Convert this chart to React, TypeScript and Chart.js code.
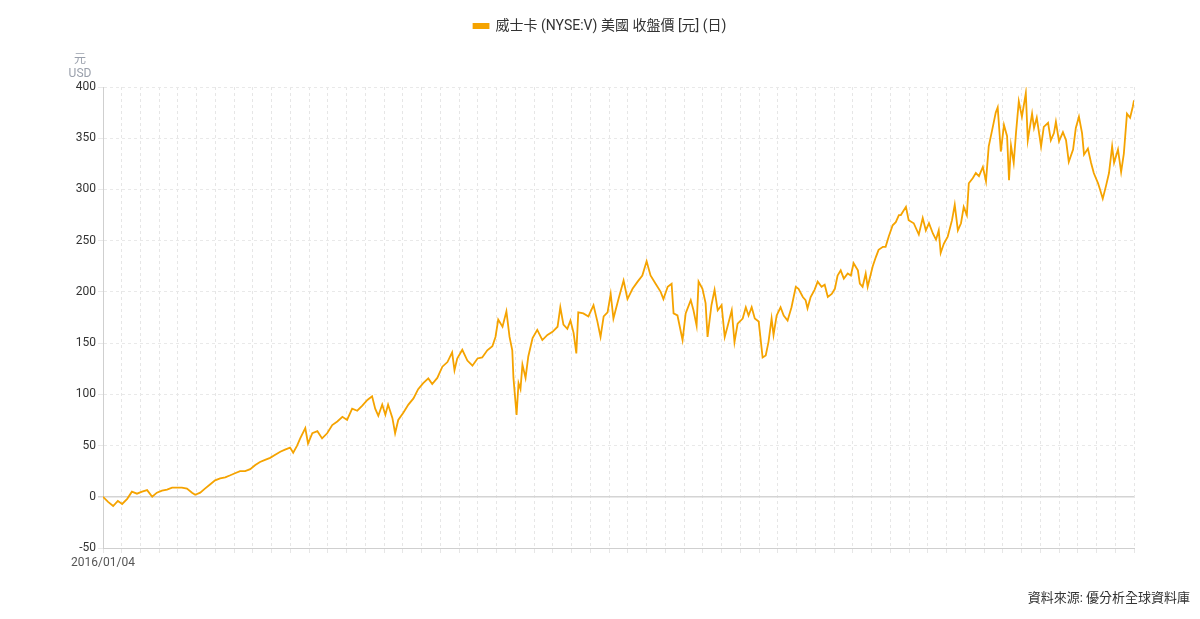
import { useEffect, useRef } from "react";
import { Chart, registerables } from "chart.js";

Chart.register(...registerables);

// trading-day index since 2016/01/04, and closing value
const tradingDays = [
  0, 13, 26, 38, 49, 62, 74, 87, 100, 113, 126, 138, 151, 164, 177, 190, 202, 215, 228, 236,
  249, 261, 274, 287, 300, 313, 326, 338, 351, 364, 377, 390, 402, 415, 428, 441, 454, 466, 479, 487,
  497, 505, 518, 525, 536, 549, 561, 574, 587, 600, 613, 625, 638, 651, 664, 677, 689, 697, 705, 715,
  723, 730, 741, 748, 756, 769, 782, 795, 807, 820, 833, 843, 856, 869, 882, 894, 900, 907, 920, 933,
  946, 959, 971, 984, 997, 1005, 1012, 1023, 1033, 1041, 1048, 1051, 1059, 1064, 1069, 1074, 1082, 1089, 1100, 1112,
  1125, 1138, 1151, 1164, 1171, 1179, 1189, 1197, 1205, 1212, 1217, 1230, 1243, 1256, 1266, 1274, 1282, 1292, 1300, 1307,
  1320, 1333, 1343, 1356, 1369, 1381, 1392, 1402, 1415, 1428, 1435, 1446, 1456, 1461, 1471, 1484, 1492, 1505, 1512, 1520,
  1525, 1535, 1543, 1548, 1558, 1566, 1574, 1584, 1592, 1599, 1610, 1617, 1625, 1638, 1646, 1653, 1661, 1669, 1679, 1689,
  1697, 1704, 1712, 1717, 1725, 1735, 1743, 1753, 1763, 1774, 1781, 1792, 1799, 1804, 1812, 1822, 1830, 1840, 1848, 1856,
  1866, 1874, 1881, 1889, 1897, 1907, 1915, 1922, 1933, 1938, 1945, 1953, 1958, 1971, 1979, 1986, 1997, 2004, 2012, 2022,
  2030, 2038, 2043, 2056, 2063, 2076, 2089, 2099, 2107, 2115, 2125, 2133, 2140, 2145, 2153, 2163, 2174, 2181, 2189, 2197,
  2204, 2212, 2217, 2227, 2235, 2243, 2253, 2261, 2268, 2279, 2286, 2291, 2299, 2307, 2315, 2320, 2325, 2332, 2338, 2345,
  2353, 2363, 2368, 2379, 2384, 2391, 2402, 2409, 2420, 2427, 2435, 2440, 2448, 2458, 2466, 2473, 2484, 2491, 2499, 2507,
  2512, 2522, 2530, 2537, 2548, 2553, 2560, 2568, 2576, 2584, 2589, 2599, 2607, 2614, 2622, 2630, 2637, 2640,
];

const closePrices = [
  0, -5, -9, -4, -7, -2, 5, 3, 5, 6.5, 0, 4, 6, 7, 9, 9, 9, 8, 4, 2,
  4, 8, 12, 16, 18, 19, 21, 23, 25, 25, 27, 31, 34, 36, 38, 41, 44, 46, 48, 43,
  50, 57, 67, 52, 62, 64, 57, 62, 70, 73.5, 78, 75, 86, 84, 89, 94.5, 98, 86, 79, 90,
  80, 90, 77, 62, 75, 82, 90, 96, 105, 111, 115.5, 110, 116, 127, 131.5, 141, 123.5, 135, 143.5, 133,
  128, 135, 136, 143, 147, 156, 173, 166, 181, 156, 143, 116, 80, 111, 105, 129, 116, 137, 155, 163,
  153, 158, 161, 166, 185, 168, 164, 172, 160, 140, 180, 179, 176, 187, 171, 156, 176, 180, 198, 174,
  193, 211, 193, 203, 210, 216, 230, 216, 208, 200, 193, 205, 208, 179, 177, 153, 179, 192, 182, 167,
  210, 203, 189, 156, 187, 202, 182, 187, 156, 166, 182, 151, 169, 174, 185, 177, 185, 174, 171, 136,
  138, 151, 174, 158, 177, 185, 177, 172, 185, 205, 203, 195, 192, 184, 195, 202, 210, 205, 207, 195,
  198, 203, 216, 221, 213, 218, 216, 228, 221, 208, 205, 218, 205, 225, 234, 241, 244, 244, 254, 265,
  268, 275, 275, 283, 270, 267, 256, 272, 260, 267, 257, 251, 260, 238, 247, 254, 270, 285, 260, 267,
  283, 275, 306, 311, 316, 313, 322, 308, 342, 362, 375, 380, 337, 363, 352, 309, 343, 326, 356, 386,
  371, 394, 348, 374, 360, 370, 342, 361, 365, 348, 355, 366, 347, 356, 348, 327, 339, 360, 371, 355,
  334, 340, 326, 316, 306, 300, 291, 303, 316, 342, 326, 339, 317, 335, 374, 370, 381, 387,
];

const startDateLabel = "2016/01/04";
const lastTradingDay = 2640;
const xGridStep = 48;
const yMin = -50;
const yMax = 400;
const yStep = 50;
const seriesLabel = "威士卡 (NYSE:V) 美國 收盤價 [元] (日)";
const yUnitLines = ["元", "USD"];
const sourceText = "資料來源: 優分析全球資料庫";

const LINE_COLOR = "#f5a300";
const FONT = "Roboto, 'Noto Sans CJK TC', 'Noto Sans', sans-serif";

// push the plot area down below the legend
const legendSpacer = {
  id: "legendSpacer",
  beforeInit(chart: any) {
    if (!chart.legend) return;
    const origFit = chart.legend.fit;
    chart.legend.fit = function fit() {
      origFit.bind(chart.legend)();
      this.height = 87;
    };
  },
};

// unit label above the y axis and the source note at the bottom right
const extraText = {
  id: "extraText",
  afterDraw(chart: any) {
    const { ctx, chartArea, width } = chart;
    ctx.save();
    ctx.font = `12px ${FONT}`;
    ctx.fillStyle = "#9aa0ac";
    ctx.textAlign = "center";
    ctx.textBaseline = "middle";
    ctx.fillText(yUnitLines[0], chartArea.left - 23, chartArea.top - 27);
    ctx.fillText(yUnitLines[1], chartArea.left - 23, chartArea.top - 13);
    ctx.font = `13px ${FONT}`;
    ctx.fillStyle = "#333";
    ctx.textAlign = "right";
    ctx.fillText(sourceText, width - 10, 599);
    ctx.restore();
  },
};

export default function App() {
  const chartRef = useRef<HTMLCanvasElement>(null);
  const chartInstance = useRef<Chart | null>(null);

  useEffect(() => {
    if (!chartRef.current) return;
    const ctx = chartRef.current.getContext("2d");
    if (!ctx) return;

    if (chartInstance.current) {
      chartInstance.current.destroy();
    }

    const points = tradingDays.map((d, i) => ({ x: d, y: closePrices[i] }));

    chartInstance.current = new Chart(ctx, {
      type: "line",
      data: {
        datasets: [
          {
            label: seriesLabel,
            data: points,
            borderColor: LINE_COLOR,
            backgroundColor: LINE_COLOR,
            borderWidth: 1.8,
            pointRadius: 0,
            tension: 0,
            fill: false,
          },
        ],
      },
      options: {
        animation: false,
        responsive: true,
        maintainAspectRatio: false,
        layout: { padding: 0 },
        plugins: {
          legend: {
            position: "top",
            labels: {
              boxWidth: 15,
              boxHeight: 4,
              padding: 19,
              color: "#333",
              font: { family: FONT, size: 14 },
            },
          },
          tooltip: { enabled: false },
        },
        scales: {
          x: {
            type: "linear",
            min: 0,
            max: lastTradingDay,
            afterFit(scale: any) {
              scale.height = 71;
            },
            ticks: {
              stepSize: xGridStep,
              autoSkip: false,
              maxRotation: 0,
              padding: 3,
              color: "#555",
              font: { family: FONT, size: 12 },
              callback: (value: any) => (value === 0 ? startDateLabel : ""),
            },
            grid: {
              color: "#e6e6e6",
              tickLength: 5,
            },
            border: {
              display: true,
              color: "#cfcfcf",
              dash: [3, 3],
            },
          },
          y: {
            min: yMin,
            max: yMax,
            afterFit(scale: any) {
              scale.width = 103;
            },
            ticks: {
              stepSize: yStep,
              padding: 2,
              color: "#333",
              font: { family: FONT, size: 12 },
            },
            grid: {
              color: (c: any) => (c.tick && c.tick.value === 0 ? "#d4d4d4" : "#e9e9e9"),
              lineWidth: (c: any) => (c.tick && c.tick.value === 0 ? 1.5 : 1),
              tickLength: 5,
            },
            border: {
              display: true,
              color: "#cfcfcf",
              dash: (c: any) => (c.tick && c.tick.value === 0 ? [] : [3, 3]),
            },
          },
          yRight: {
            position: "right",
            display: true,
            afterFit(scale: any) {
              scale.width = 66;
            },
            ticks: { display: false },
            grid: { display: false },
            border: { display: false },
          },
        },
      },
      plugins: [legendSpacer, extraText],
    });

    return () => {
      if (chartInstance.current) {
        chartInstance.current.destroy();
        chartInstance.current = null;
      }
    };
  }, []);

  return (
    <div
      style={{
        position: "fixed",
        left: 0,
        top: 0,
        width: 1200,
        height: 619,
        background: "#fff",
      }}
    >
      <canvas ref={chartRef} />
    </div>
  );
}
